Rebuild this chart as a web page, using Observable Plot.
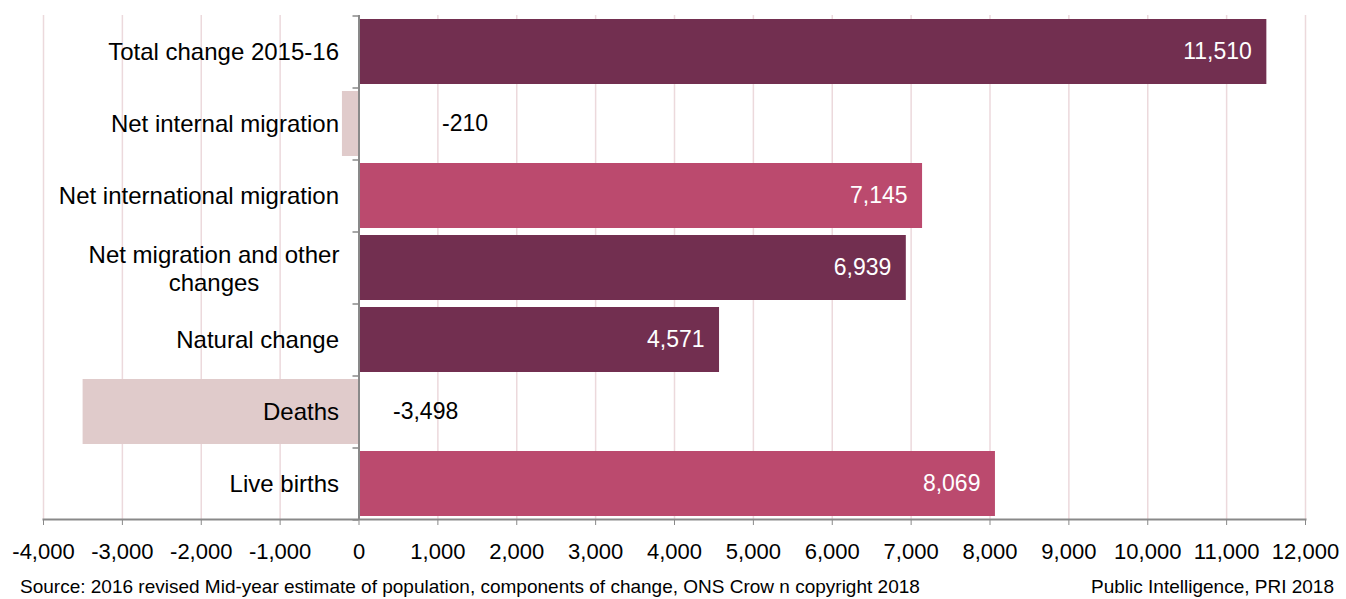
<!DOCTYPE html>
<html>
<head>
<meta charset="utf-8">
<script src="https://cdn.jsdelivr.net/npm/d3@7"></script>
<script src="https://cdn.jsdelivr.net/npm/@observablehq/plot@0.6"></script>
<style>
  body { margin: 0; background: #fff; font-family: "Liberation Sans", Arial, sans-serif; }
  #chart svg { display: block; }
  #footer { position: relative; height: 34px; font-size: 19px; color: #000; }
  #footer span { position: absolute; top: 11px; line-height: 22px; white-space: nowrap; }
</style>
</head>
<body>
<div id="chart"></div>
<div id="footer">
  <span id="src" style="left:20px;">Source: 2016 revised Mid-year estimate of population, components of change, ONS Crow n copyright 2018</span>
  <span id="pub" style="right:12px;">Public Intelligence, PRI 2018</span>
</div>
<script>
// ---- data ----
const categories = [
  "Total change 2015-16",
  "Net internal migration",
  "Net international migration",
  "Net migration and other changes",
  "Natural change",
  "Deaths",
  "Live births"
];
const values = [11510, -210, 7145, 6939, 4571, -3498, 8069];
const kinds = ["summary", "component", "component", "summary", "summary", "component", "component"];
const xTicks = [-4000, -3000, -2000, -1000, 0, 1000, 2000, 3000, 4000, 5000, 6000, 7000, 8000, 9000, 10000, 11000, 12000];

const data = categories.map((c, i) => ({
  name: c,
  value: values[i],
  kind: values[i] < 0 ? "negative" : kinds[i]
}));

const fmt = v => v.toLocaleString("en-US");
const font = "Liberation Sans, Arial, sans-serif";
const axisGray = "#898989";

const W = 1346, H = 565, mTop = 15, mBottom = 46;
const step = (H - mTop - mBottom) / categories.length;

const pos = data.filter(d => d.value >= 0);
const negInternal = data.filter(d => d.name === "Net internal migration");
const negDeaths = data.filter(d => d.name === "Deaths");
const singleLine = data.filter(d => d.name !== "Net migration and other changes");
const twoLine = data.filter(d => d.name === "Net migration and other changes");

const chart = Plot.plot({
  width: W,
  height: H,
  marginTop: mTop,
  marginBottom: mBottom,
  marginLeft: 43,
  marginRight: 41,
  style: { fontFamily: font, background: "#fff", color: "#000" },
  x: { domain: [-4000, 12000], label: null },
  y: { domain: categories, paddingInner: 0.1, paddingOuter: 0.05, label: null, axis: null },
  color: {
    domain: ["summary", "component", "negative"],
    range: ["#722f50", "#bb4a6e", "#e0cbcb"]
  },
  marks: [
    Plot.gridX(xTicks, { stroke: "#ecd9dc", strokeOpacity: 1, strokeWidth: 1.5 }),
    Plot.barX(data, { x: "value", y: "name", fill: "kind" }),
    // category labels
    Plot.text(singleLine, { x: 0, y: "name", text: "name", textAnchor: "end", dx: -20, fontSize: 24, fill: "#000" }),
    Plot.text(twoLine, { x: 0, y: "name", text: () => "Net migration and other\nchanges", textAnchor: "middle", dx: -145, fontSize: 24, lineHeight: 1.18, fill: "#000" }),
    // value labels
    Plot.text(pos, { x: "value", y: "name", text: d => fmt(d.value), textAnchor: "end", dx: -15, fontSize: 23, fill: "#fff" }),
    Plot.text(negInternal, { x: 0, y: "name", text: d => fmt(d.value), textAnchor: "start", dx: 83, fontSize: 23, fill: "#000" }),
    Plot.text(negDeaths, { x: 0, y: "name", text: d => fmt(d.value), textAnchor: "start", dx: 34, fontSize: 23, fill: "#000" }),
    // y axis line and ticks at band edges
    Plot.ruleX([0], { stroke: axisGray, strokeWidth: 2 }),
    Plot.ruleY(categories, { y: d => d, x1: -76, x2: 0, dy: -step / 2, stroke: axisGray, strokeWidth: 1.5 }),
    Plot.ruleY(categories.slice(-1), { y: d => d, x1: -76, x2: 0, dy: step / 2, stroke: axisGray, strokeWidth: 1.5 }),
    // x axis
    Plot.frame({ anchor: "bottom", stroke: axisGray, strokeWidth: 2 }),
    Plot.axisX({ ticks: xTicks, tickFormat: fmt, tickSize: 6, tickPadding: 18, fontSize: 22, stroke: axisGray, fill: "#000", label: null })
  ]
});
document.getElementById("chart").appendChild(chart);
</script>
</body>
</html>
